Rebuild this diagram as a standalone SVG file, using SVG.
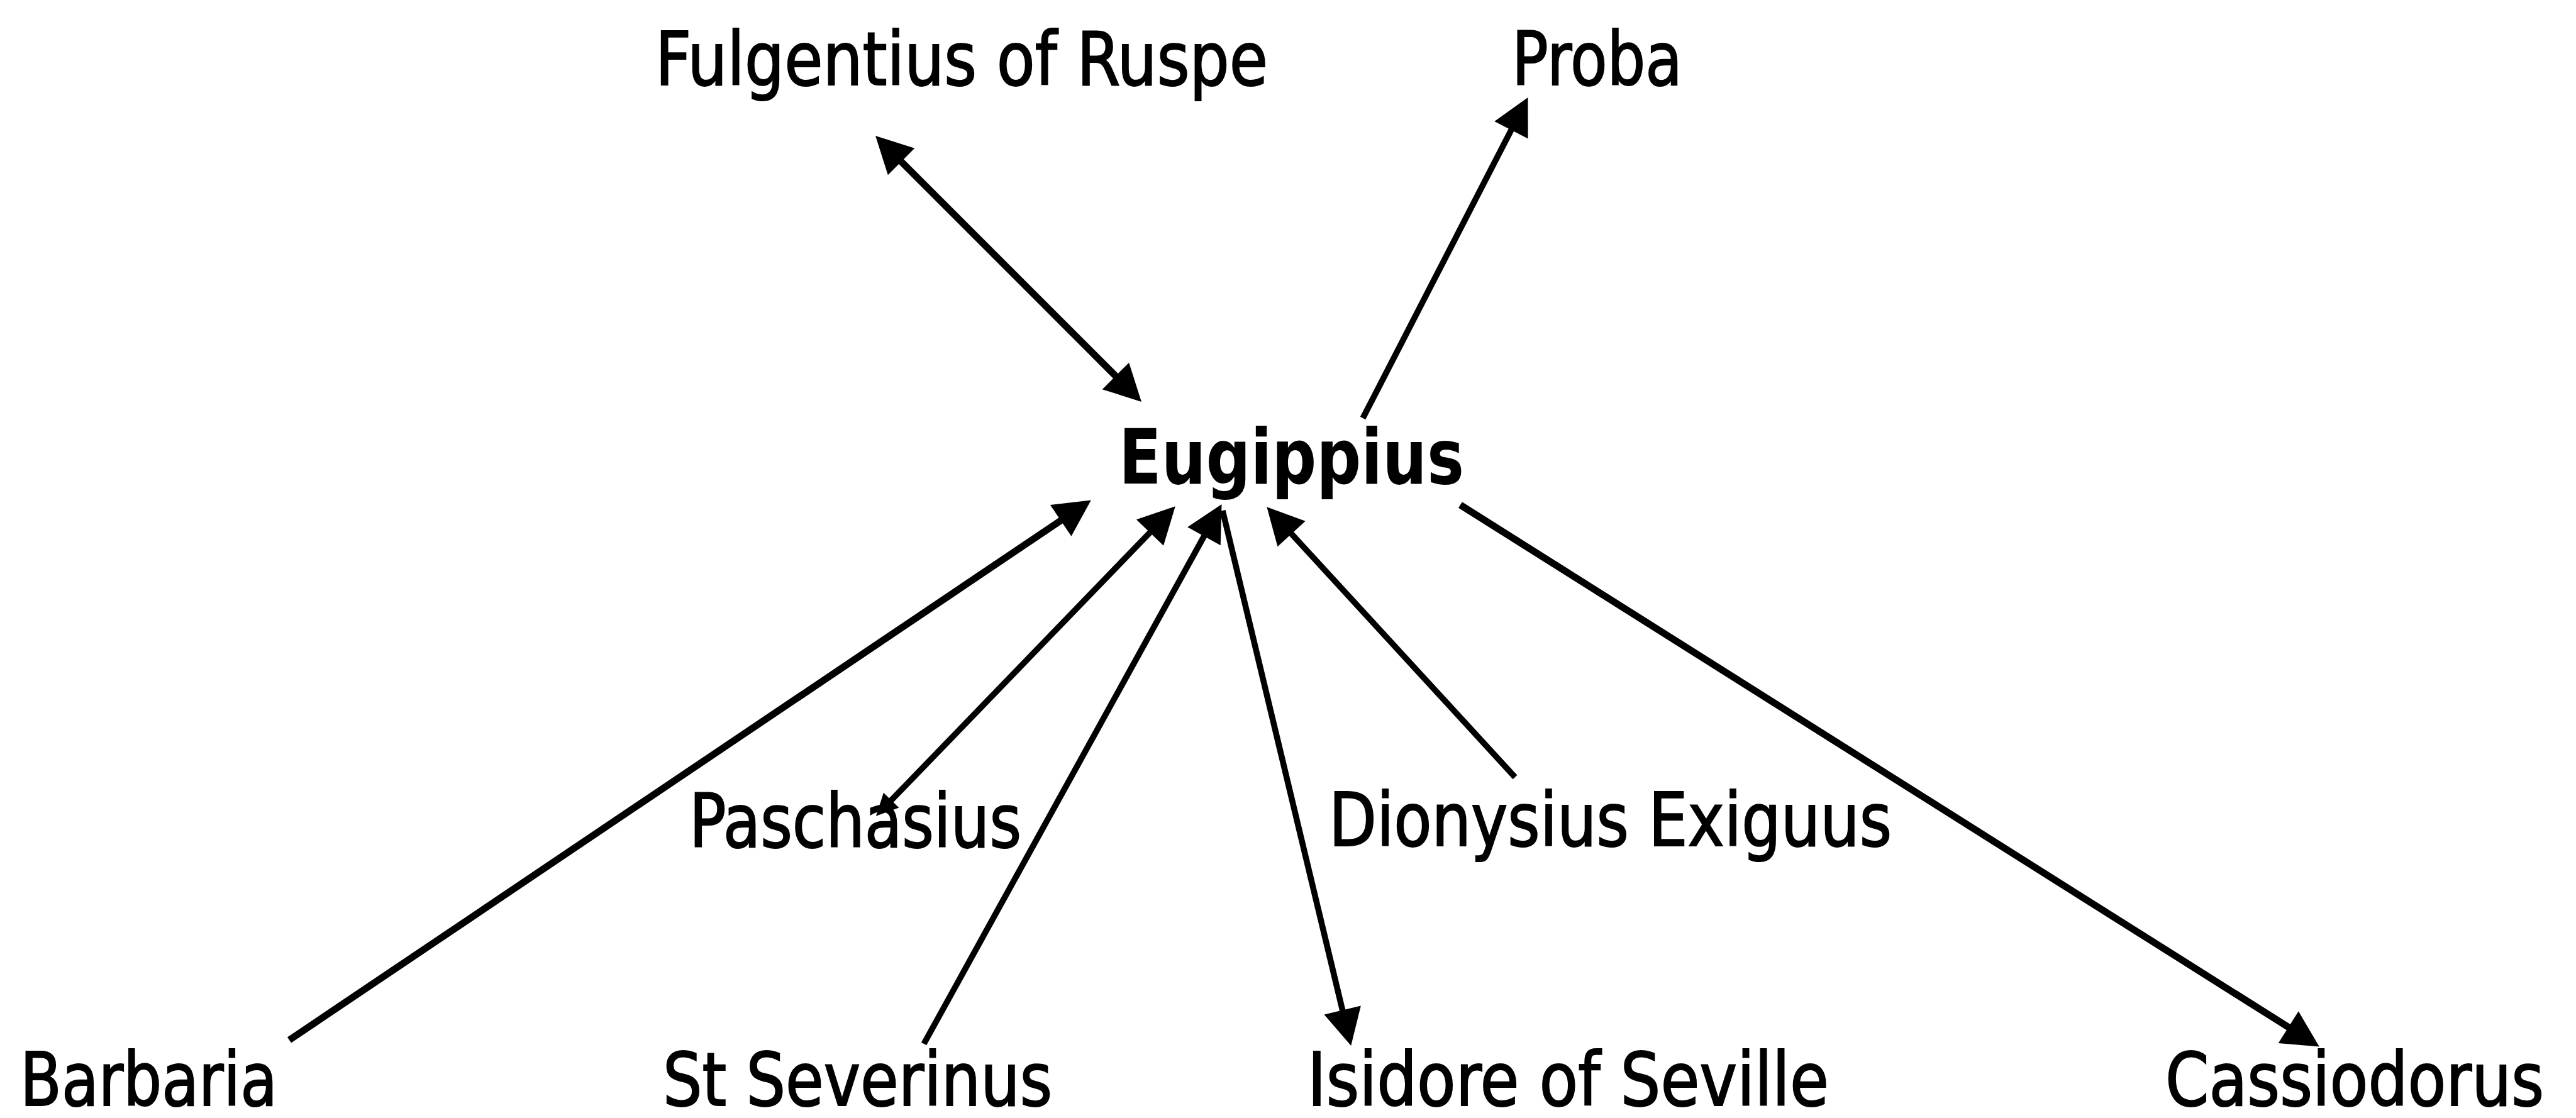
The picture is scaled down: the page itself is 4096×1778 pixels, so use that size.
<svg xmlns="http://www.w3.org/2000/svg" width="4096" height="1778" viewBox="0 0 4096 1778">
<style>
.lbl{font-family:"DejaVu Sans Condensed","DejaVu Sans",sans-serif;font-size:118px;fill:#000;stroke:#000;stroke-width:2}
.main{font-family:"DejaVu Sans Condensed","DejaVu Sans",sans-serif;font-size:121px;font-weight:bold;fill:#000}
.edge{stroke:#000;fill:none;stroke-linecap:butt}
.thick{stroke-width:11}
.thin{stroke-width:9.5}
</style>
<defs>
<marker id="ah" markerUnits="userSpaceOnUse" markerWidth="62" markerHeight="62" viewBox="0 -31 60 62" refX="10" refY="0" orient="auto-start-reverse">
<path d="M0,-30 L58,0 L0,30 z" fill="#000"/>
</marker>
<marker id="ahs" markerUnits="userSpaceOnUse" markerWidth="40" markerHeight="40" viewBox="0 -20 36 40" refX="6" refY="0" orient="auto-start-reverse">
<path d="M0,-17 L35,0 L0,17 z" fill="#000"/>
</marker>
</defs>
<rect width="4096" height="1778" fill="#fff"/>
<g id="connectors">
<path class="edge thick" d="M1426,250 L1781,605" marker-start="url(#ah)" marker-end="url(#ah)"/>
<path class="edge thin" d="M2167,665 L2407.5,197.8" marker-end="url(#ah)"/>
<path class="edge thick" d="M460,1654 L1695,822.3" marker-end="url(#ah)"/>
<path class="edge thin" d="M1413,1277 L1835.4,839.8" marker-start="url(#ahs)" marker-end="url(#ah)"/>
<path class="edge thin" d="M1469,1660 L1919.3,844.1" marker-end="url(#ah)"/>
<path class="edge thin" d="M1944,812 L2137,1616.3" marker-end="url(#ah)"/>
<path class="edge thin" d="M2409,1236 L2046.8,841.6" marker-end="url(#ah)"/>
<path class="edge thick" d="M2322,803 L3647.2,1638.9" marker-end="url(#ah)"/>
</g>
<g id="node-fulgentius"><text class="lbl" x="1042" y="135" textLength="974" lengthAdjust="spacingAndGlyphs">Fulgentius of Ruspe</text></g>
<g id="node-proba"><text class="lbl" x="2404" y="135" textLength="271" lengthAdjust="spacingAndGlyphs">Proba</text></g>
<g id="node-eugippius"><text class="main" x="1779" y="769" textLength="549" lengthAdjust="spacingAndGlyphs">Eugippius</text></g>
<g id="node-paschasius"><text class="lbl" x="1096" y="1347" textLength="528" lengthAdjust="spacingAndGlyphs">Paschasius</text></g>
<g id="node-dionysius"><text class="lbl" x="2113" y="1345" textLength="895" lengthAdjust="spacingAndGlyphs">Dionysius Exiguus</text></g>
<g id="node-barbaria"><text class="lbl" x="32" y="1758" textLength="409" lengthAdjust="spacingAndGlyphs">Barbaria</text></g>
<g id="node-severinus"><text class="lbl" x="1054" y="1758" textLength="619" lengthAdjust="spacingAndGlyphs">St Severinus</text></g>
<g id="node-isidore"><text class="lbl" x="2079" y="1758" textLength="829" lengthAdjust="spacingAndGlyphs">Isidore of Seville</text></g>
<g id="node-cassiodorus"><text class="lbl" x="3443" y="1758" textLength="602" lengthAdjust="spacingAndGlyphs">Cassiodorus</text></g>
</svg>
